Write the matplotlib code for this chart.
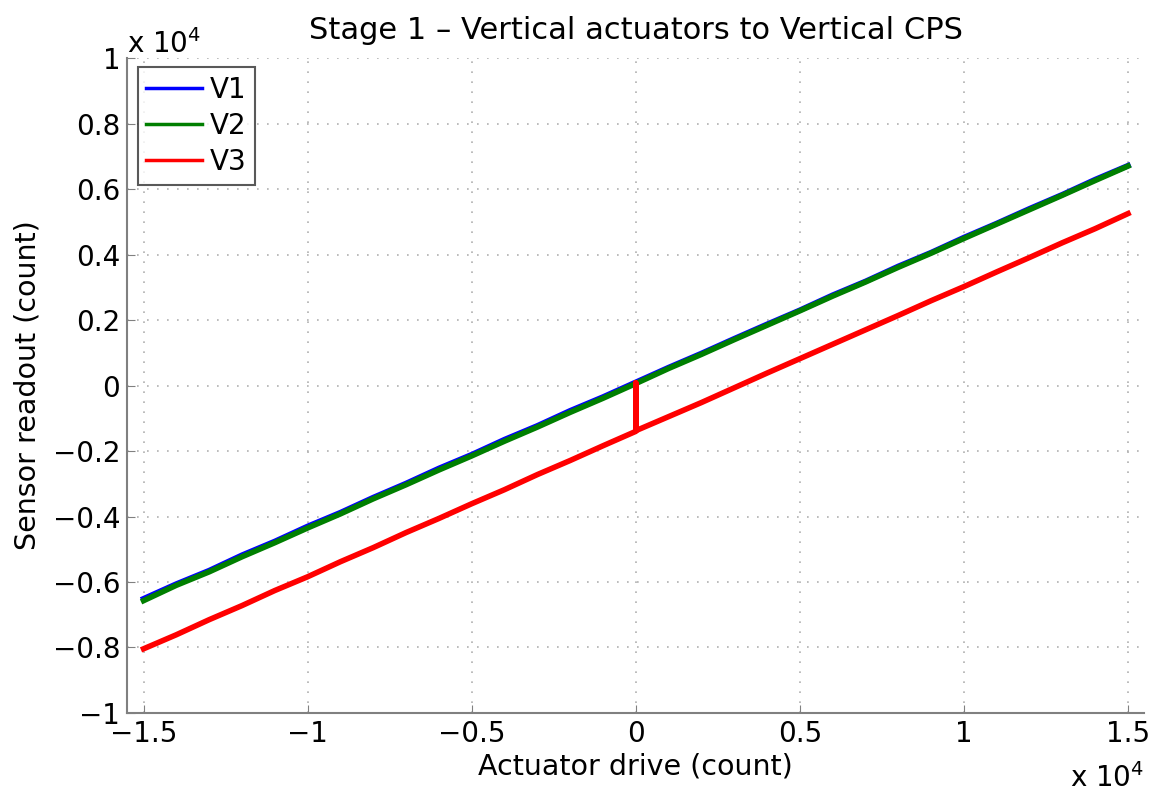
import numpy as np
import matplotlib
matplotlib.use("Agg")
import matplotlib.pyplot as plt
from matplotlib.lines import Line2D

plt.rcParams['font.family'] = ['DejaVu Sans']
plt.rcParams['mathtext.default'] = 'regular'

# actuator drive (counts)
x = np.arange(-15000, 15001, 1000)
v1 = [-6510, -6060, -5650, -5180, -4760, -4300, -3880, -3420, -2990, -2530, -2110,
      -1650, -1230, -770, -350, 100, 550, 980, 1430, 1870, 2300, 2760, 3180, 3640,
      4060, 4520, 4950, 5400, 5830, 6290, 6715]
v2 = [-6570, -6100, -5690, -5230, -4800, -4350, -3920, -3460, -3030, -2580, -2150,
      -1700, -1270, -820, -390, 60, 520, 950, 1400, 1840, 2280, 2730, 3160, 3610,
      4040, 4490, 4930, 5370, 5810, 6260, 6700]

# V3 has a jump at zero drive
x3 = list(range(-15000, 1, 1000)) + [0, 0] + list(range(1000, 15001, 1000))
v3 = [-8040, -7610, -7150, -6720, -6260, -5840, -5380, -4950, -4490, -4060, -3610,
      -3180, -2720, -2290, -1840, -1400, 80, -1380, -950, -520, -70, 380, 820, 1260,
      1700, 2140, 2590, 3020, 3470, 3910, 4360, 4790, 5250]

xticks = [-15000, -10000, -5000, 0, 5000, 10000, 15000]
xlabels = ['\u22121.5', '\u22121', '\u22120.5', '0', '0.5', '1', '1.5']
yticks = [-10000, -8000, -6000, -4000, -2000, 0, 2000, 4000, 6000, 8000, 10000]
ylabels = ['\u22121', '\u22120.8', '\u22120.6', '\u22120.4', '\u22120.2', '0',
           '0.2', '0.4', '0.6', '0.8', '1']

colors = {'V1': '#0000ff', 'V2': '#007f00', 'V3': '#ff0000'}

fig = plt.figure(figsize=(11.56, 7.97), dpi=100)
ax = fig.add_axes([0.110, 0.1054, 0.880, 0.8218])

ax.plot(x, v1, color=colors['V1'], lw=4, solid_joinstyle='round')
ax.plot(x, v2, color=colors['V2'], lw=4, solid_joinstyle='round')
ax.plot(x3, v3, color=colors['V3'], lw=4, solid_joinstyle='round')

ax.set_xlim(-15500, 15500)
ax.set_ylim(-10000, 10000)
ax.set_xticks(xticks)
ax.set_xticklabels(xlabels)
ax.set_yticks(yticks)
ax.set_yticklabels(ylabels)
ax.tick_params(direction='in', length=6, color='#808080', labelsize=20, pad=5)
ax.grid(True, linestyle=(0, (1, 5)), color='#b0b0b0', lw=1.2)

for s in ['top', 'right']:
    ax.spines[s].set_visible(False)
for s in ['left', 'bottom']:
    ax.spines[s].set_color('#808080')
    ax.spines[s].set_linewidth(1.5)

ax.set_title('Stage 1 \u2013 Vertical actuators to Vertical CPS', fontsize=22, pad=14)
ax.set_xlabel('Actuator drive (count)', fontsize=20.5, labelpad=3)
ax.set_ylabel('Sensor readout (count)', fontsize=20.5, labelpad=8)

fig.text(0.110, 0.926, 'x 10$^4$', fontsize=20, ha='left', va='bottom')
fig.text(0.990, 0.005, 'x 10$^4$', fontsize=20, ha='right', va='bottom')

handles = [Line2D([], [], color=colors[k], lw=2.5) for k in ['V1', 'V2', 'V3']]
leg = ax.legend(handles, ['V1', 'V2', 'V3'], loc='upper left', fontsize=20,
                frameon=True, fancybox=False, borderaxespad=0.0, borderpad=0.3,
                handlelength=2.0, handletextpad=0.3, labelspacing=0.3,
                bbox_to_anchor=(0.0105, 0.986))
leg.get_frame().set_edgecolor('#303030')
leg.get_frame().set_linewidth(1.5)

fig.savefig('out.png', dpi=100)
